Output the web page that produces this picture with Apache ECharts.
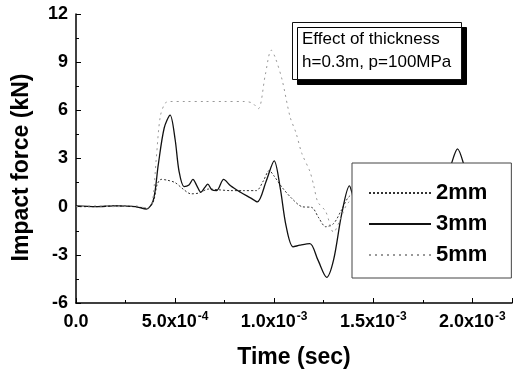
<!DOCTYPE html>
<html><head><meta charset="utf-8">
<script src="https://cdn.jsdelivr.net/npm/echarts@6/dist/echarts.min.js"></script>
<style>html,body{margin:0;padding:0;background:#fff}#c{width:527px;height:375px}</style>
</head><body><div id="c"></div>
<script>
// time values in units of 1e-4 s, force in kN
const names = ['2mm', '3mm', '5mm'];

const t2mm = [0, 1, 2, 3, 3.6, 3.9, 4.1, 4.3, 4.6, 5.0, 5.4, 5.8, 6.2, 6.7, 7.2, 7.8, 8.5, 9.1, 9.45, 9.75, 10.0, 10.4, 10.9, 11.4, 11.9, 12.25, 12.6, 13.0, 13.4, 13.8, 14.5, 15.5, 16.5, 17.5, 18.5, 19.5, 20.5, 21.5];
const f2mm = [0, 0, 0.05, 0, -0.1, 0.3, 1.4, 1.7, 1.65, 1.5, 1.1, 0.8, 0.85, 1.1, 1.05, 1.0, 1.0, 1.0, 1.6, 2.25, 1.9, 1.2, 0.5, 0.0, -0.05, -0.7, -1.25, -1.05, -0.2, 0.65, 0.9, 0.6, 0.8, 0.6, 0.8, 0.6, 0.5, 0.4];

const t3mm = [0, 1, 2, 3, 3.55, 3.9, 4.15, 4.45, 4.75, 5.0, 5.2, 5.45, 5.7, 5.9, 6.1, 6.3, 6.5, 6.65, 6.85, 7.1, 7.45, 7.8, 8.3, 8.8, 9.15, 9.6, 10.0, 10.3, 10.6, 10.95, 11.3, 11.8, 12.2, 12.65, 13.0, 13.4, 13.8, 14.1, 14.6, 15.5, 16.5, 17.5, 18.5, 18.95, 19.25, 19.55, 19.9, 20.5, 21.5];
const f3mm = [0.05, 0, 0.05, 0, -0.15, 0.4, 2.6, 4.9, 5.7, 4.2, 2.2, 1.25, 1.35, 1.7, 1.3, 0.9, 1.2, 1.4, 1.05, 1.0, 1.7, 1.3, 0.9, 0.55, 0.3, 1.6, 2.85, 1.2, -1.2, -2.5, -2.4, -2.3, -3.3, -4.4, -3.3, -0.5, 1.3, 0.4, 0.9, 1.3, 0.8, 1.0, 0.9, 2.7, 3.6, 2.7, 0.9, 0.6, 0.4];

const t5mm = [0, 1, 2, 3, 3.6, 3.85, 4.05, 4.25, 4.5, 4.75, 5.5, 6.5, 7.5, 8.5, 8.9, 9.2, 9.55, 9.85, 10.05, 10.4, 10.8, 11.1, 11.4, 11.8, 12.0, 12.2, 12.6, 13.0, 13.3, 13.7, 14.2, 15, 16, 17, 18, 19, 20, 21.5];
const f5mm = [0, 0.05, 0, 0.05, -0.1, 0.3, 3.0, 5.6, 6.45, 6.55, 6.55, 6.55, 6.55, 6.55, 6.45, 6.1, 8.2, 9.75, 9.3, 7.9, 5.6, 4.6, 3.3, 2.2, 1.3, 0.3, -0.3, -1.6, -0.9, 0.2, 0.6, 1.0, 0.8, 0.5, 0.7, 0.6, 0.5, 0.5];

const xTickValues = [0, 5e-4, 1e-3, 1.5e-3, 2e-3];
const xTickMantissa = ['0.0', '5.0x10', '1.0x10', '1.5x10', '2.0x10'];
const xTickExp = ['', '-4', '-3', '-3', '-3'];

const FONT = '"Liberation Sans", Arial, Helvetica, sans-serif';

function pairs(t, f) { return t.map((v, i) => [v * 1e-4, f[i]]); }

const chart = echarts.init(document.getElementById('c'), null, {renderer: 'canvas'});
chart.setOption({
  animation: false,
  backgroundColor: '#fff',
  grid: {left: 76, right: 15, top: 14, bottom: 72, containLabel: false},
  title: {
    text: 'Effect of thickness\nh=0.3m, p=100MPa',
    left: 292, top: 22,
    padding: [6, 10, 6, 10],
    backgroundColor: '#fff',
    borderColor: '#111', borderWidth: 1,
    shadowColor: '#000', shadowBlur: 0, shadowOffsetX: 5, shadowOffsetY: 5,
    textStyle: {fontFamily: FONT, fontSize: 17, fontWeight: 'normal', lineHeight: 23, color: '#000'}
  },
  legend: {
    data: names,
    orient: 'vertical',
    left: 352, top: 163,
    padding: [18, 24, 11, 16],
    itemWidth: 62, itemHeight: 24, itemGap: 7,
    backgroundColor: '#fff',
    borderColor: '#444', borderWidth: 1,
    itemStyle: {opacity: 0},
    textStyle: {fontFamily: FONT, fontSize: 22, fontWeight: 'bold', color: '#000', lineHeight: 24}
  },
  xAxis: {
    type: 'value', min: 0, max: 2.2e-3, interval: 5e-4,
    name: 'Time (sec)', nameLocation: 'middle', nameGap: 43,
    nameTextStyle: {fontFamily: FONT, fontSize: 23, fontWeight: 'bold', color: '#000'},
    axisLine: {onZero: false, lineStyle: {color: '#000', width: 1.5}},
    axisTick: {inside: true, length: 5, lineStyle: {color: '#000', width: 1}},
    minorTick: {show: true, splitNumber: 2, length: 3, lineStyle: {color: '#000'}},
    splitLine: {show: false},
    axisLabel: {
      margin: 8,
      formatter: function (v) {
        const i = xTickValues.findIndex(x => Math.abs(x - v) < 1e-9);
        if (i < 0) return '';
        return xTickExp[i] ? '{b|' + xTickMantissa[i] + '}{s|' + xTickExp[i] + '}' : '{b|' + xTickMantissa[i] + '}';
      },
      rich: {
        b: {fontFamily: FONT, fontSize: 18, fontWeight: 'bold', color: '#000', lineHeight: 22},
        s: {fontFamily: FONT, fontSize: 12, fontWeight: 'bold', color: '#000', verticalAlign: 'top', lineHeight: 22, padding: [0, 0, 10, 1]}
      }
    }
  },
  yAxis: {
    type: 'value', min: -6, max: 12, interval: 3,
    name: 'Impact force (kN)', nameLocation: 'middle', nameGap: 43,
    nameTextStyle: {fontFamily: FONT, fontSize: 23, fontWeight: 'bold', color: '#000', padding: [0, 18, 0, 0]},
    axisLine: {onZero: false, lineStyle: {color: '#000', width: 1.5}},
    axisTick: {inside: true, length: 5, lineStyle: {color: '#000', width: 1}},
    minorTick: {show: true, splitNumber: 2, length: 3, lineStyle: {color: '#000'}},
    splitLine: {show: false},
    axisLabel: {margin: 8, fontFamily: FONT, fontSize: 18, fontWeight: 'bold', color: '#000'}
  },
  series: [
    {name: '2mm', type: 'line', data: pairs(t2mm, f2mm), smooth: 0.3, symbol: 'none',
     lineStyle: {color: '#333', width: 1, type: [2, 2]}, itemStyle: {color: '#333'}},
    {name: '3mm', type: 'line', data: pairs(t3mm, f3mm), smooth: 0.3, symbol: 'none',
     lineStyle: {color: '#111', width: 1.3, type: 'solid'}, itemStyle: {color: '#111'}},
    {name: '5mm', type: 'line', data: pairs(t5mm, f5mm), smooth: 0.3, symbol: 'none',
     lineStyle: {color: '#999', width: 1, type: [2, 4]}, itemStyle: {color: '#999'}}
  ]
});
</script></body></html>
